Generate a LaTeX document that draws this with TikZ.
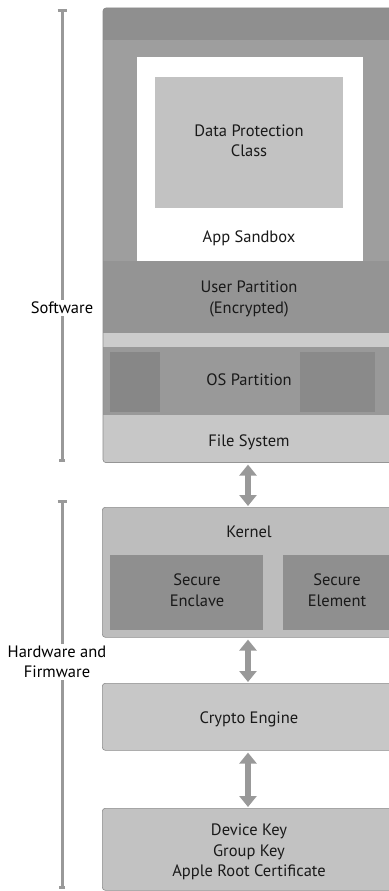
\documentclass[tikz,border=0pt]{standalone}
\usepackage{fontspec}
\setmainfont{PT Sans}
\usetikzlibrary{arrows.meta}
\begin{document}
\begin{tikzpicture}[x=1pt,y=-1pt,
  lbl/.style={font=\fontsize{16.5}{20.5}\selectfont, text=black!90, align=center, inner sep=1pt},
  side/.style={font=\fontsize{16.5}{20}\selectfont, text=black, align=center, inner sep=2pt},
  layerbox/.style={draw=black!45, line width=0.6pt, rounded corners=3pt, inner sep=0pt, anchor=north west},
  bar/.style={draw=black!40, line width=3pt},
  dblarrow/.style={draw=black!40, line width=6pt,
    {Triangle[length=11pt,width=17pt]}-{Triangle[length=11pt,width=17pt]}, shorten <=2pt, shorten >=1pt}
]
\useasboundingbox (0,0) rectangle (388,891);

% ---------- Software box ----------
\node[layerbox, fill=black!38, minimum width=292pt, minimum height=454pt] (sw) at (103,8) {};
\begin{scope}
  \clip[rounded corners=3pt] (sw.north west) rectangle (sw.south east);
  \fill[black!44] (103,8) rectangle (395,40);
  \fill[black!42] (103,261) rectangle (395,333);
  \fill[black!20] (103,333) rectangle (395,347);
  \fill[black!40] (103,347) rectangle (395,415);
  \fill[black!47] (110,352) rectangle (160,412);
  \fill[black!46] (300,352) rectangle (375,412);
  \fill[black!22] (103,415) rectangle (395,462);
\end{scope}
\draw[black!45, line width=0.6pt, rounded corners=3pt] (sw.north west) rectangle (sw.south east);

\node[fill=white, inner sep=0pt, anchor=north west, minimum width=226pt, minimum height=204pt] (sandbox) at (137,57) {};
\node[fill=black!24, inner sep=0pt, anchor=north west, minimum width=188pt, minimum height=131pt] (dpc) at (155,77) {};
\node[lbl] (dpct) at (249,141) {Data Protection\\Class};
\node[lbl] (sbt) at (249,238) {App Sandbox};
\node[lbl] (upt) at (249,299) {User Partition\\(Encrypted)};
\node[lbl] (ost) at (249,380) {OS Partition};
\node[lbl] (fst) at (249,442) {File System};

% ---------- Kernel box ----------
\node[layerbox, fill=black!26, minimum width=292pt, minimum height=130pt] (kern) at (102,507) {};
\node[lbl] (kernt) at (249,532) {Kernel};
\node[fill=black!44, inner sep=0pt, anchor=north west, minimum width=153pt, minimum height=75pt] (enc) at (110,555) {};
\node[fill=black!44, inner sep=0pt, anchor=north west, minimum width=110pt, minimum height=75pt] (elem) at (283,555) {};
\node[lbl] (enct) at (197,590) {Secure\\Enclave};
\node[lbl] (elemt) at (337,590) {Secure\\Element};

% ---------- Crypto Engine ----------
\node[layerbox, fill=black!22, minimum width=292pt, minimum height=67pt] (crypto) at (102,683) {};
\node[lbl] (cryptot) at (249,719) {Crypto Engine};

% ---------- Keys ----------
\node[layerbox, fill=black!24, minimum width=292pt, minimum height=82pt] (keys) at (102,808) {};
\node[lbl] (keyst) at (249,852) {Device Key\\Group Key\\Apple Root Certificate};

% ---------- Arrows ----------
\draw[dblarrow] (sw.south -| 248,0) -- (kern.north -| 248,0);
\draw[dblarrow] (kern.south -| 248,0) -- (crypto.north -| 248,0);
\draw[dblarrow] (crypto.south -| 248,0) -- (keys.north -| 248,0);

% ---------- Side labels ----------
\coordinate (swtop) at (62,9);
\coordinate (swbot) at (62,462);
\node[side] (swl) at (62,308) {Software};
\draw[bar, {Bar[width=9pt]}-] (swtop) -- (swl.north);
\draw[bar, -{Bar[width=6pt]}] (swl.south) -- (swbot);

\coordinate (hwtop) at (62,500);
\coordinate (hwbot) at (62,889);
\node[side] (hwl) at (57,662) {Hardware and\\Firmware};
\draw[bar, {Bar[width=9pt]}-] (hwtop) -- (hwl.north -| hwtop);
\draw[bar, -{Bar[width=6pt]}] (hwl.south -| hwbot) -- (hwbot);
\end{tikzpicture}
\end{document}
